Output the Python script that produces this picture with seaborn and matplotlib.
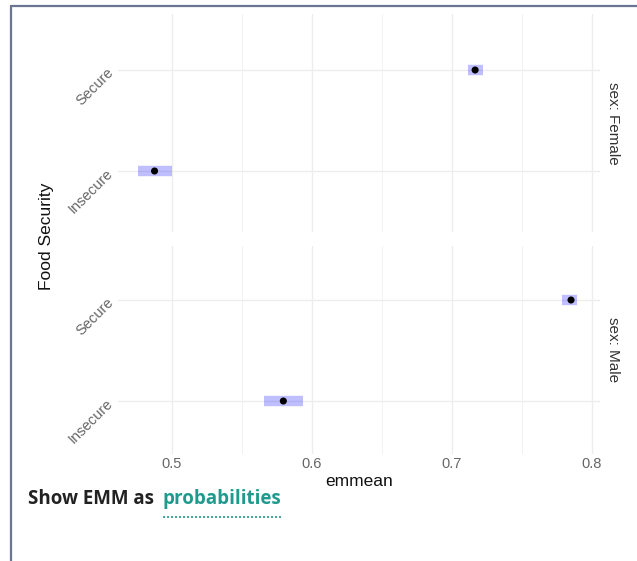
import matplotlib
matplotlib.use("Agg")
import matplotlib.pyplot as plt
import pandas as pd
import seaborn as sns
from matplotlib.lines import Line2D

# Estimated marginal means (probability scale) with confidence limits
sex = ["Female", "Female", "Male", "Male"]
food_security = ["Secure", "Insecure", "Secure", "Insecure"]
emmean = [0.7165, 0.4875, 0.7850, 0.5795]
lower_cl = [0.7114, 0.4757, 0.7786, 0.5657]
upper_cl = [0.7221, 0.5000, 0.7893, 0.5936]

sex_levels = ["Female", "Male"]
food_levels = ["Secure", "Insecure"]
x_major = [0.5, 0.6, 0.7, 0.8]
x_minor = [0.55, 0.65, 0.75]

df = pd.DataFrame({"sex": sex, "food": food_security, "emmean": emmean,
                   "lower": lower_cl, "upper": upper_cl})
df["pos"] = df["food"].map({f: i for i, f in enumerate(food_levels)})

sns.set_theme(style="white")
plt.rcParams["font.family"] = ["Liberation Sans", "DejaVu Sans"]

W, H = 637, 561
fig = plt.figure(figsize=(W / 100, H / 100), dpi=100)
fig.patch.set_facecolor("white")

left_px, right_px = 118, 600
# panel extents (top, bottom) and first row position in pixels
panels_px = {"Female": (14, 232, 70), "Male": (246, 454, 300)}
row_step = 101.0

tick_color = "#666666"
for s in sex_levels:
    top, bot, first_row = panels_px[s]
    ax = fig.add_axes([left_px / W, 1 - bot / H, (right_px - left_px) / W, (bot - top) / H])
    sub = df[df["sex"] == s]

    ax.set_xlim(0.4614, 0.8057)
    y_top = -(first_row - top) / row_step
    y_bot = (bot - first_row) / row_step
    ax.set_ylim(y_bot, y_top)
    ax.set_xticks(x_major)
    ax.set_xticks(x_minor, minor=True)
    ax.set_yticks(range(len(food_levels)))
    ax.set_yticklabels(food_levels)
    ax.grid(True, which="major", color="#ededed", lw=1.0)
    ax.grid(True, which="minor", axis="x", color="#f2f2f2", lw=0.7)
    ax.set_axisbelow(True)
    for sp in ax.spines.values():
        sp.set_visible(False)
    ax.tick_params(which="both", length=0)
    ax.tick_params(axis="y", pad=5, labelsize=10.5, labelcolor=tick_color)
    ax.tick_params(axis="x", pad=2, labelsize=10.5, labelcolor=tick_color)
    for lbl in ax.get_yticklabels():
        lbl.set_rotation(45)
        lbl.set_rotation_mode("anchor")
        lbl.set_ha("right")
        lbl.set_va("center")

    # confidence intervals
    ax.hlines(sub["pos"], sub["lower"], sub["upper"], color=(0, 0, 1, 0.25),
              lw=7.5, capstyle="butt", zorder=2)
    # estimated means
    sns.scatterplot(data=sub, x="emmean", y="pos", color="black", s=26,
                    edgecolor="none", ax=ax, zorder=3, legend=False)
    ax.set_xlabel("")
    ax.set_ylabel("")

    if s != sex_levels[-1]:
        ax.tick_params(axis="x", labelbottom=False)

    ymid = 1 - (top + bot) / 2 / H
    fig.text(613 / W, ymid, f"sex: {s}", rotation=-90, ha="center", va="center",
             fontsize=11, color="#333333")

fig.text(46 / W, 1 - 236 / H, "Food Security", rotation=90, ha="center", va="center",
         fontsize=12.5, color="#111111")
fig.text((left_px + right_px) / 2 / W, 1 - 482 / H, "emmean", ha="center", va="center",
         fontsize=12.5, color="#111111")

# control caption
cap_font = ["Open Sans", "DejaVu Sans"]
t1 = fig.text(28 / W, 1 - 499 / H, "Show EMM as", ha="left", va="center",
              fontsize=13.5, fontweight="bold", family=cap_font, color="#222222")
fig.canvas.draw()
bb = t1.get_window_extent()
t2 = fig.text((bb.x1 + 9) / W, 1 - 499 / H, "probabilities", ha="left", va="center",
              fontsize=13.5, fontweight="bold", family=cap_font, color="#1f9a8c")
fig.canvas.draw()
bb2 = t2.get_window_extent()
fig.add_artist(Line2D([bb2.x0 / W, bb2.x1 / W], [1 - 517 / H, 1 - 517 / H],
                      color="#1f9a8c", lw=1.2, ls=(0, (1.2, 1.2))))

# card frame
frame_c = "#6b7592"
fig.add_artist(Line2D([11 / W, 11 / W], [0, 1 - 6 / H], color=frame_c, lw=1.6))
fig.add_artist(Line2D([11 / W, 1], [1 - 6 / H, 1 - 6 / H], color=frame_c, lw=1.6))

fig.savefig("out.png", dpi=100)
